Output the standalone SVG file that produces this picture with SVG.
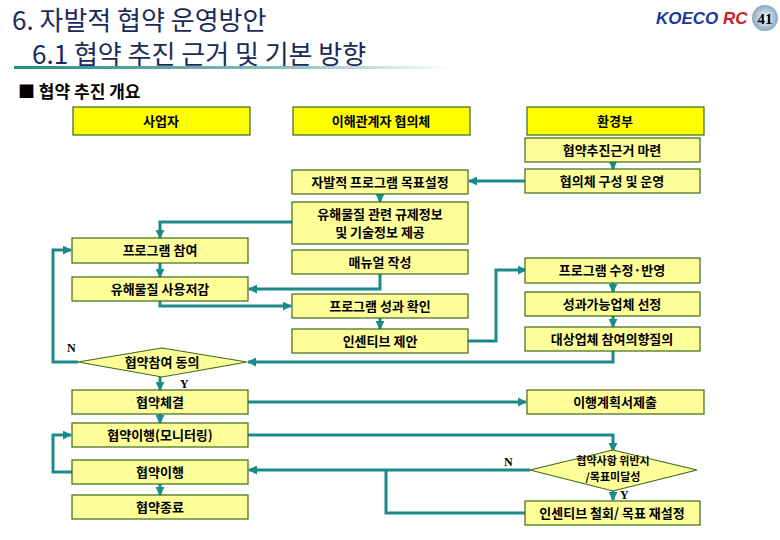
<svg xmlns="http://www.w3.org/2000/svg" width="780" height="540" viewBox="0 0 780 540">
<defs>
<linearGradient id="ul" x1="0" x2="1"><stop offset="0" stop-color="#2a8a8a"/><stop offset="0.6" stop-color="#8abcbc"/><stop offset="1" stop-color="#ffffff"/></linearGradient>
<radialGradient id="globe"><stop offset="0" stop-color="#ffffff"/><stop offset="1" stop-color="#8aa8c0"/></radialGradient>
<marker id="a" viewBox="0 0 10 10" refX="9" refY="5" markerWidth="3" markerHeight="3" orient="auto"><path d="M0,0 L10,5 L0,10 z" fill="#1a8a8a"/></marker>
</defs>
<style>
.b{fill:#ffff99;stroke:#3a6a1a;stroke-width:1.2}
.t{fill:#ffff00;stroke:#3a6a1a;stroke-width:1.2}
.tx{font-family:"Noto Sans CJK KR","Liberation Sans",sans-serif;font-size:13px;font-weight:bold;fill:#000;text-anchor:middle}
.c path{fill:none;stroke:#1a8a8a;stroke-width:3}
.lb{font-family:"Liberation Serif",serif;font-size:12px;font-weight:bold;fill:#000}
.h{font-family:"Noto Sans CJK KR","Liberation Sans",sans-serif;font-size:26px;fill:#1a2a5a}
</style>
<rect width="780" height="540" fill="#fff"/>
<text class="h" x="12" y="30">6.  자발적 협약 운영방안</text>
<text class="h" x="32" y="64">6.1  협약 추진 근거 및 기본 방향</text>
<rect x="14" y="66" width="440" height="3" fill="url(#ul)"/>
<text x="18" y="98" style="font-family:'Noto Sans CJK KR',sans-serif;font-size:17px;font-weight:bold">■ 협약 추진 개요</text>
<g id="logo">
<text x="656" y="24" style="font-family:'Liberation Sans',sans-serif;font-size:17px;font-weight:bold;font-style:italic;fill:#1a3aa0">KOECO <tspan fill="#d02020">RC</tspan></text>
<circle cx="765" cy="18" r="13" fill="url(#globe)"/>
<text x="765" y="24" text-anchor="middle" style="font-family:'Liberation Serif',serif;font-size:15px;font-weight:bold">41</text>
</g>
<g class="c">
<path d="M613,162 V169" marker-end="url(#a)"/>
<path d="M527,181 H469" marker-end="url(#a)"/>
<path d="M380,193 V202" marker-end="url(#a)"/>
<path d="M292,222 H160 V238" marker-end="url(#a)"/>
<path d="M160,263 V277" marker-end="url(#a)"/>
<path d="M380,274 V289 H249" marker-end="url(#a)"/>
<path d="M160,301 V306 H291" marker-end="url(#a)"/>
<path d="M380,318 V329" marker-end="url(#a)"/>
<path d="M468,341 H496 V270 H526" marker-end="url(#a)"/>
<path d="M613,283 V292" marker-end="url(#a)"/>
<path d="M613,316 V327" marker-end="url(#a)"/>
<path d="M613,351 V362 H248" marker-end="url(#a)"/>
<path d="M78,362 H53 V250 H71" marker-end="url(#a)"/>
<path d="M160,377 V390" marker-end="url(#a)"/>
<path d="M248,402 H526" marker-end="url(#a)"/>
<path d="M160,414 V423" marker-end="url(#a)"/>
<path d="M248,435 H613 V451" marker-end="url(#a)"/>
<path d="M530,470 H249" marker-end="url(#a)"/>
<path d="M386,470 V513 H525"/>
<path d="M613,490 V500" marker-end="url(#a)"/>
<path d="M72,472 H53 V435 H71" marker-end="url(#a)"/>
<path d="M160,484 V495" marker-end="url(#a)"/>
</g>
<g id="n1"><rect class="t" x="73" y="107" width="177" height="28"/><text class="tx" x="161" y="126">사업자</text></g>
<g id="n2"><rect class="t" x="293" y="107" width="177" height="28"/><text class="tx" x="381" y="126">이해관계자 협의체</text></g>
<g id="n3"><rect class="t" x="527" y="107" width="177" height="28"/><text class="tx" x="615" y="126">환경부</text></g>
<g id="n4"><rect class="b" x="525" y="138" width="175" height="24"/><text class="tx" x="612" y="155">협약추진근거 마련</text></g>
<g id="n5"><rect class="b" x="525" y="169" width="175" height="24"/><text class="tx" x="612" y="186">협의체 구성 및 운영</text></g>
<g id="n6"><rect class="b" x="292" y="170" width="176" height="24"/><text class="tx" x="380" y="187">자발적 프로그램 목표설정</text></g>
<g id="n7"><rect class="b" x="292" y="202" width="176" height="42"/><text class="tx" x="380" y="219">유해물질 관련 규제정보</text><text class="tx" x="380" y="237">및 기술정보 제공</text></g>
<g id="n8"><rect class="b" x="292" y="250" width="176" height="24"/><text class="tx" x="380" y="267">매뉴얼 작성</text></g>
<g id="n9"><rect class="b" x="72" y="238" width="176" height="25"/><text class="tx" x="160" y="255">프로그램 참여</text></g>
<g id="n10"><rect class="b" x="72" y="277" width="176" height="24"/><text class="tx" x="160" y="294">유해물질 사용저감</text></g>
<g id="n11"><rect class="b" x="292" y="294" width="176" height="24"/><text class="tx" x="380" y="311">프로그램 성과 확인</text></g>
<g id="n12"><rect class="b" x="292" y="329" width="176" height="24"/><text class="tx" x="380" y="346">인센티브 제안</text></g>
<g id="n13"><rect class="b" x="525" y="258" width="175" height="25"/><text class="tx" x="612" y="275">프로그램 수정·반영</text></g>
<g id="n14"><rect class="b" x="525" y="292" width="175" height="24"/><text class="tx" x="612" y="309">성과가능업체 선정</text></g>
<g id="n15"><rect class="b" x="525" y="327" width="175" height="24"/><text class="tx" x="612" y="344">대상업체 참여의향질의</text></g>
<g id="n16"><path class="b" d="M78,362 L162,348 L247,362 L162,377 z"/><text class="tx" x="162" y="367">협약참여 동의</text></g>
<g id="n17"><rect class="b" x="72" y="390" width="176" height="24"/><text class="tx" x="160" y="407">협약체결</text></g>
<g id="n18"><rect class="b" x="527" y="390" width="177" height="24"/><text class="tx" x="615" y="407">이행계획서제출</text></g>
<g id="n19"><rect class="b" x="72" y="423" width="176" height="24"/><text class="tx" x="160" y="440">협약이행(모니터링)</text></g>
<g id="n20"><rect class="b" x="72" y="460" width="176" height="24"/><text class="tx" x="160" y="477">협약이행</text></g>
<g id="n21"><rect class="b" x="72" y="495" width="176" height="24"/><text class="tx" x="160" y="512">협약종료</text></g>
<g id="n22"><path class="b" d="M530,470 L613,450 L697,470 L613,491 z"/><text class="tx" x="613" y="465" style="font-size:11px">협약사항 위반시</text><text class="tx" x="613" y="481" style="font-size:11px">/목표미달성</text></g>
<g id="n23"><rect class="b" x="525" y="501" width="175" height="24"/><text class="tx" x="612" y="518">인센티브 철회/ 목표 재설정</text></g>
<text class="lb" x="67" y="352">N</text>
<text class="lb" x="180" y="388">Y</text>
<text class="lb" x="504" y="466">N</text>
<text class="lb" x="620" y="499">Y</text>
</svg>
